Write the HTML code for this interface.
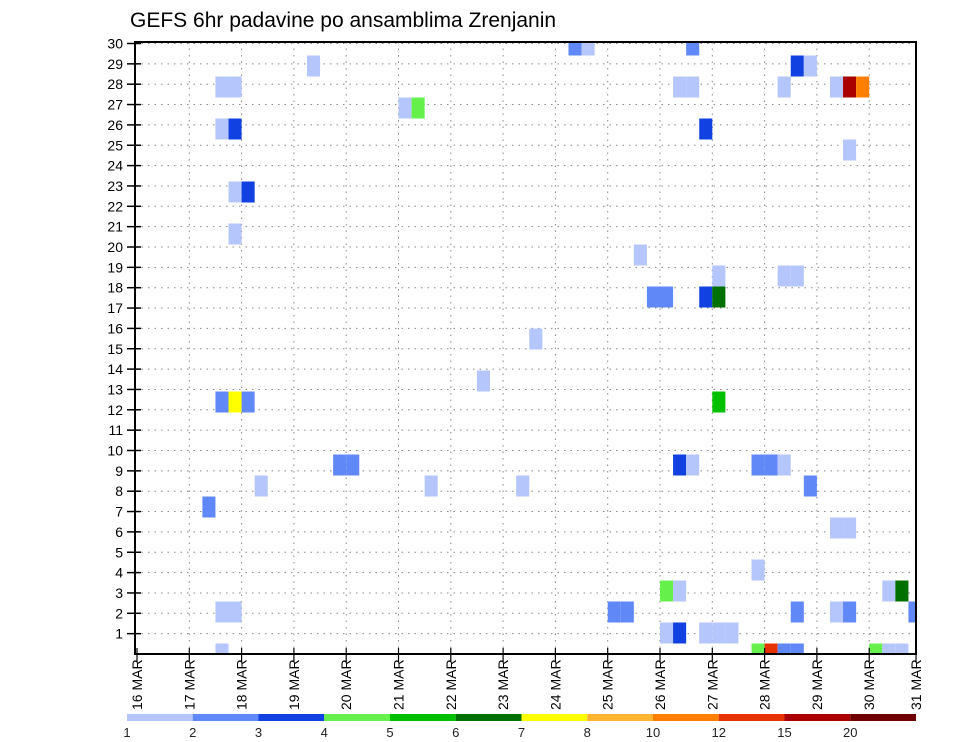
<!DOCTYPE html>
<html><head><meta charset="utf-8"><style>
body{margin:0;background:#fff;}
svg{display:block;font-family:"Liberation Sans",sans-serif;}
</style></head><body>
<svg id="c" width="960" height="742" xmlns="http://www.w3.org/2000/svg">
<text x="130" y="27" font-size="21" fill="#000">GEFS 6hr padavine po ansamblima Zrenjanin</text>
<g id="grid"></g><g id="cells"></g><g id="axes"></g><g id="legend"></g>
</svg>
<script>
const members=[28,27,27,26,26,25,25,22,22,20,29,29,29,28,28,27,27,27,27,27,27,25,24,19,18,18,18,17,17,17,17,15,13,12,12,12,12,9,9,9,9,9,9,9,8,8,8,8,7,6,6,4,3,3,3,3,2,2,2,2,2,2,2,2,1,1,1,1,1,0,0,0,0,0,0,0,0];
const steps=[13,6,7,20,21,6,7,7,8,7,33,34,42,50,51,41,42,49,53,54,55,43,54,38,44,49,50,39,40,43,44,30,26,6,7,8,44,15,16,41,42,47,48,49,9,22,29,51,5,53,54,47,40,41,57,58,6,7,36,37,50,53,54,59,40,41,43,44,45,6,47,48,49,50,56,57,58];
const precip=[1.5,1.5,1.5,1.5,4.5,1.5,3.5,1.5,3.5,1.5,2.5,1.5,2.5,3.5,1.5,1.5,1.5,1.5,1.5,17,11,3.5,1.5,1.5,1.5,1.5,1.5,2.5,2.5,3.5,6.5,1.5,1.5,2.5,7.5,2.5,5.5,2.5,2.5,3.5,1.5,2.5,2.5,1.5,1.5,1.5,1.5,2.5,2.5,1.5,1.5,1.5,4.5,1.5,1.5,6.5,1.5,1.5,2.5,2.5,2.5,1.5,2.5,2.5,1.5,3.5,1.5,1.5,1.5,1.5,4.5,13,2.5,2.5,4.5,1.5,1.5];
const levels=[1,2,3,4,5,6,7,8,10,12,15,20];
const levelColors=["#b4c6fb","#6088f6","#1141e0","#66f04c","#00c000","#007000","#ffff00","#ffb432","#ff8000","#e63200","#aa0000","#6e0000"];
const dayLabels=["16","17","18","19","20","21","22","23","24","25","26","27","28","29","30","31"];
const rowLabels=[1,2,3,4,5,6,7,8,9,10,11,12,13,14,15,16,17,18,19,20,21,22,23,24,25,26,27,28,29,30];

const NS="http://www.w3.org/2000/svg";
const L=135,R=916,T=42,B=654,X0=137,DAY=52.3,STEP=DAY/4;
const xDay=d=>X0+d*DAY, xStep=s=>X0+s*STEP;
const yRow=r=>654-20.35*r, yMem=m=>654-21*m;
function mk(tag,at,parent){const e=document.createElementNS(NS,tag);for(const k in at)e.setAttribute(k,at[k]);parent.appendChild(e);return e;}
function colorOf(v){let i=0;for(let j=0;j<levels.length;j++)if(v>=levels[j])i=j;return levelColors[i];}
const grid=document.getElementById('grid'),cells=document.getElementById('cells'),axes=document.getElementById('axes'),leg=document.getElementById('legend');
rowLabels.forEach(r=>{const y=yRow(r);
 const g=mk('line',{x1:L,x2:R,y1:y,y2:y,stroke:'#888','stroke-width':1,'stroke-dasharray':'1.5,5'},grid);
 
 
 const t=mk('line',{x1:L-8,x2:L+6,y1:y,y2:y,stroke:'#000','stroke-width':1.5},axes);
 
 
 const tx=mk('text',{x:L-12,y:y+5,'font-size':14,'text-anchor':'end'},axes);tx.textContent=r;
 
 
});
dayLabels.forEach((d,i)=>{const x=Math.min(xDay(i),R);
 if(i>0&&i<15){const g=mk('line',{x1:x,x2:x,y1:T,y2:B,stroke:'#888','stroke-width':1,'stroke-dasharray':'1.5,5'},grid);
 
 }
 const t=mk('line',{x1:x,x2:x,y1:B-6,y2:B+8,stroke:'#000','stroke-width':1.2},axes);
 
 
 const tx=mk('text',{x:0,y:0,'font-size':14,transform:`translate(${x+5},710) rotate(-90)`},axes);tx.textContent=d+"   MAR";
 
 
});
const clip=mk('clipPath',{id:'pc'},document.getElementById('c'));mk('rect',{x:L,y:T,width:R-L,height:B-T},clip);
cells.setAttribute('clip-path','url(#pc)');
members.forEach((m,i)=>{
 const r=mk('rect',{x:xStep(steps[i]),y:yMem(m)-10.5,width:STEP,height:21,fill:colorOf(precip[i])},cells);
 
 
});
const fr=mk('rect',{x:L,y:T,width:R-L,height:B-T,fill:'none',stroke:'#000','stroke-width':2},axes);


const LW=(916-127)/levels.length;
levels.forEach((lv,i)=>{
 const r=mk('rect',{x:127+i*LW,y:714,width:LW,height:7,fill:levelColors[i]},leg);
 
 
 const t=mk('text',{x:127+i*LW,y:737,'font-size':13,'text-anchor':'middle',fill:'#222'},leg);t.textContent=lv;
 
 
});
</script>
</body></html>
